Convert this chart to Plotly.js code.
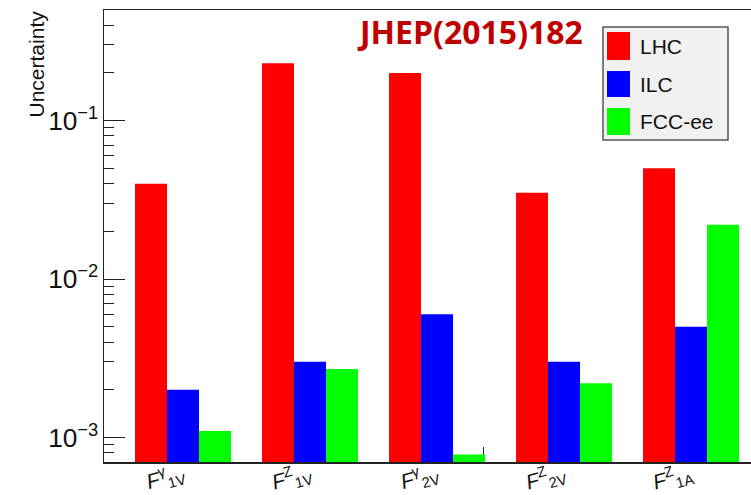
<!DOCTYPE html>
<html>
<head>
<meta charset="utf-8">
<script src="https://cdn.plot.ly/plotly-3.0.1.min.js"></script>
<style>
html,body{margin:0;padding:0;background:#fff;}
#chart{width:751px;height:495px;}
</style>
</head>
<body>
<div id="chart"></div>
<script>
// ---- data ----
const categories = ['F1V_gamma', 'F1V_Z', 'F2V_gamma', 'F2V_Z', 'F1A_Z'];
const tickLabels = [
  '<i>F</i><sup>γ</sup><sub>1V</sub>',
  '<i>F</i><sup>Z</sup><sub>1V</sub>',
  '<i>F</i><sup>γ</sup><sub>2V</sub>',
  '<i>F</i><sup>Z</sup><sub>2V</sub>',
  '<i>F</i><sup>Z</sup><sub>1A</sub>'
];
const seriesNames = ['LHC', 'ILC', 'FCC-ee'];
const lhcValues = [0.04, 0.23, 0.2, 0.035, 0.05];
const ilcValues = [0.002, 0.003, 0.006, 0.003, 0.005];
const fccValues = [0.0011, 0.0027, 0.00078, 0.0022, 0.022];
const binEdges = [0.366, 1.366, 2.366, 3.366, 4.366];

// ---- styling ----
const colors = ['#ff0000', '#0000ff', '#00ff00'];
const W = 751, H = 495;
const M = {l: 104, r: 0, t: 10, b: 33};
const PW = W - M.l - M.r, PH = H - M.t - M.b;
const px = x => (x - M.l) / PW;
const py = y => (H - M.b - y) / PH;
const xRange = [-0.622, 4.472];
const axisColor = '#222';

const seriesValues = [lhcValues, ilcValues, fccValues];
const traces = seriesValues.map((vals, i) => ({
  type: 'bar',
  name: seriesNames[i],
  x: categories,
  y: vals,
  marker: {color: colors[i], line: {width: 0}},
  showlegend: false,
  hoverinfo: 'x+y+name'
}));
traces.push({type: 'scatter', x: [], y: [], xaxis: 'x2', yaxis: 'y', showlegend: false, hoverinfo: 'skip'});

// custom legend
const shapes = [{
  type: 'rect', xref: 'paper', yref: 'paper',
  x0: px(603), x1: px(728), y0: py(27), y1: py(140),
  fillcolor: '#f1f1f1', line: {color: '#555', width: 1.5}
}];
const legendRows = [[32, 60], [71, 97], [108, 135]];
const annotations = [];
seriesNames.forEach((n, i) => {
  const r = legendRows[i];
  shapes.push({
    type: 'rect', xref: 'paper', yref: 'paper',
    x0: px(607), x1: px(630), y0: py(r[0]), y1: py(r[1]),
    fillcolor: colors[i], line: {width: 0}
  });
  annotations.push({
    xref: 'paper', yref: 'paper', x: px(638), y: py((r[0] + r[1]) / 2),
    xanchor: 'left', yanchor: 'middle', showarrow: false, text: n,
    font: {family: 'Liberation Sans, Arial, sans-serif', size: 21, color: '#111'}
  });
});
annotations.push({
  xref: 'paper', yref: 'paper', x: px(36), y: py(9),
  xanchor: 'center', yanchor: 'top', showarrow: false, textangle: -90,
  text: 'Uncertainty',
  font: {family: 'Liberation Sans, Arial, sans-serif', size: 21, color: '#111'}
});
annotations.push({
  xref: 'paper', yref: 'paper', x: px(470), y: py(32),
  xanchor: 'center', yanchor: 'middle', showarrow: false,
  text: '<b>JHEP(2015)182</b>',
  font: {family: 'Open Sans, sans-serif', size: 32, color: '#c00000'}
});

const layout = {
  width: W, height: H,
  margin: M,
  paper_bgcolor: '#fff', plot_bgcolor: '#fff',
  barmode: 'group', bargap: 0.244, bargroupgap: 0,
  xaxis: {
    type: 'category', range: xRange,
    showline: true, mirror: true, linecolor: axisColor, linewidth: 1.5,
    ticks: '', tickvals: categories, ticktext: tickLabels, tickangle: -15,
    ticklabelstandoff: -9,
    tickfont: {family: 'Liberation Sans, Arial, sans-serif', size: 21, color: '#111'},
    showgrid: false, zeroline: false, fixedrange: true
  },
  xaxis2: {
    type: 'linear', overlaying: 'x', anchor: 'y', range: xRange,
    showline: false, showgrid: false, zeroline: false, showticklabels: false,
    tickmode: 'array', tickvals: binEdges, ticks: 'inside', ticklen: 15,
    tickcolor: axisColor, tickwidth: 1, layer: 'below traces'
  },
  yaxis: {
    type: 'log', range: [-3.155, -0.302],
    showline: true, mirror: false, linecolor: axisColor, linewidth: 1.5,
    ticks: 'inside', ticklen: 21, tickcolor: axisColor, tickwidth: 1,
    tick0: 0, dtick: 1, exponentformat: 'power', showexponent: 'all',
    minor: {ticks: 'inside', ticklen: 10, dtick: 'D1', tickcolor: axisColor, tickwidth: 1},
    tickfont: {family: 'Liberation Sans, Arial, sans-serif', size: 21, color: '#111'},
    showgrid: false, zeroline: false
  },
  shapes: shapes,
  annotations: annotations,
  showlegend: false
};

Plotly.newPlot('chart', traces, layout, {displayModeBar: false, staticPlot: true});
</script>
</body>
</html>
